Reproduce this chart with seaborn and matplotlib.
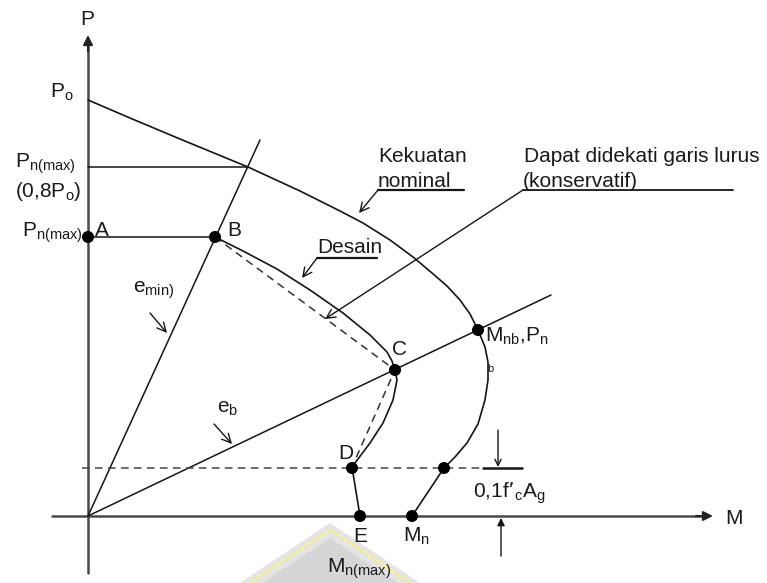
import matplotlib
matplotlib.use("Agg")
import matplotlib.pyplot as plt
import seaborn as sns
import pandas as pd

sns.set_theme(style="white")
plt.rcParams["font.family"] = ["Liberation Sans", "DejaVu Sans"]
plt.rcParams["mathtext.default"] = "regular"

# ---- data (M, P), origin at the axes crossing ----
nominal_M = [0, 42, 92, 160, 212, 252, 275, 302, 325, 344, 359, 372, 382, 390,
             397, 400, 400, 397, 390, 379, 367, 356, 324]
nominal_P = [416, 398, 377, 349, 325, 305, 293, 276, 259, 243, 230, 216, 202, 186,
             169, 154, 136, 116, 92, 73, 59, 48, 0]

design_M = [127, 155, 189, 222, 255, 282, 299, 304, 307, 309, 305, 295, 282, 264, 272]
design_P = [279, 265, 247, 226, 203, 181, 164, 155, 146, 136, 116, 93, 73, 49, 0]

approx_M = [127, 307, 264]      # straight-line (conservative) approximation B-C-D
approx_P = [279, 146, 49]

pt_names = ["A", "B", "C", "Mnb", "D", "D2", "E", "Mn"]
pt_M = [0, 127, 307, 390, 264, 356, 272, 324]
pt_P = [279, 279, 146, 186, 48, 48, 0, 0]

emin_M = [0, 172]
emin_P = [0, 376]
eb_M = [0, 463]
eb_P = [0, 221]

P_o = 416
P_nmax08 = 349
P_nmax = 279
M_08_end = 160
P_01 = 48

fig = plt.figure(figsize=(7.67, 5.83), dpi=100)
ax = fig.add_axes([0, 0, 1, 1])
ax.set_xlim(-88, 679)
ax.set_ylim(-67, 516)
ax.axis("off")

ink = "#151515"
axis_c = "#4a4a4a"

# faint watermark (decoration)
ax.fill([152, 242, 332], [-67, -7, -67], color="#e4e4e4", lw=0, zorder=0)
ax.plot([162, 242, 322], [-67, -14, -67], color="#f1eba8", lw=2, zorder=0)
ax.fill([174, 242, 310], [-67, -22, -67], color="#d6d6d6", lw=0, zorder=0)

# axes with arrows
ax.plot([0, 0], [-57, 470], color=axis_c, lw=1.8, zorder=1)
ax.plot([-36, 615], [0, 0], color=axis_c, lw=1.8, zorder=1)
ax.annotate("", xy=(0, 481), xytext=(0, 465),
            arrowprops=dict(arrowstyle="-|>", color="#222", lw=1.5,
                            mutation_scale=14, shrinkA=0, shrinkB=0))
ax.annotate("", xy=(625, 0), xytext=(608, 0),
            arrowprops=dict(arrowstyle="-|>", color="#222", lw=1.5,
                            mutation_scale=14, shrinkA=0, shrinkB=0))

# horizontal reference lines
sns.lineplot(x=[0, M_08_end], y=[P_nmax08, P_nmax08], color=ink, lw=1.1, ax=ax)
sns.lineplot(x=[0, pt_M[1]], y=[P_nmax, P_nmax], color=ink, lw=1.1, ax=ax)

# eccentricity lines
sns.lineplot(x=emin_M, y=emin_P, color=ink, lw=1.1, ax=ax, sort=False)
sns.lineplot(x=eb_M, y=eb_P, color=ink, lw=1.1, ax=ax, sort=False)

# curves
sns.lineplot(x=nominal_M, y=nominal_P, color=ink, lw=1.2, ax=ax,
             sort=False, estimator=None)
sns.lineplot(x=design_M, y=design_P, color=ink, lw=1.2, ax=ax,
             sort=False, estimator=None)
sns.lineplot(x=approx_M, y=approx_P, color="#333", lw=1.1, ax=ax,
             sort=False, estimator=None, linestyle=(0, (5, 3.5)))

# 0,1 f'c Ag level
sns.lineplot(x=[-6, 395], y=[P_01, P_01], color="#444", lw=1.1, ax=ax,
             linestyle=(0, (5, 3.5)))
sns.lineplot(x=[395, 434], y=[P_01, P_01], color=ink, lw=1.8, ax=ax)
ax.annotate("", xy=(410, P_01 + 1), xytext=(410, 86),
            arrowprops=dict(arrowstyle="->", color=ink, lw=1.0,
                            mutation_scale=11, shrinkA=0, shrinkB=0))
ax.annotate("", xy=(413, -2), xytext=(413, -40),
            arrowprops=dict(arrowstyle="-|>", color=ink, lw=1.0,
                            mutation_scale=11, shrinkA=0, shrinkB=0))

# points
df_pts = pd.DataFrame({"M": pt_M, "P": pt_P, "name": pt_names})
sns.scatterplot(data=df_pts, x="M", y="P", color="black", s=75,
                edgecolor="none", ax=ax, zorder=5)

# callout arrows
arr = dict(arrowstyle="->", color=ink, lw=1.0, mutation_scale=16,
           shrinkA=0, shrinkB=0)
ax.plot([290, 376], [326, 326], color=ink, lw=1.6)
ax.annotate("", xy=(271, 303), xytext=(290, 326), arrowprops=arr)
ax.plot([229, 289], [258, 258], color=ink, lw=1.6)
ax.annotate("", xy=(214, 238), xytext=(229, 258), arrowprops=arr)
ax.plot([435, 645], [326, 326], color=ink, lw=1.3)
ax.annotate("", xy=(237, 197), xytext=(435, 326), arrowprops=arr)
ax.annotate("", xy=(79, 183), xytext=(62, 203), arrowprops=arr)
ax.annotate("", xy=(144, 72), xytext=(126, 92), arrowprops=arr)

# labels
fs = 15
tc = "#1a1a1a"
def lab(x, y, s, size=fs):
    ax.text(x, y, s, fontsize=size, color=tc, ha="left", va="baseline")

lab(-8, 491, "P")
lab(-38, 418, "P$_o$")
lab(-73, 348, "P$_{n(max)}$")
lab(-73, 319, "(0,8P$_o$)")
lab(-66, 279, "P$_{n(max)}$")
lab(7, 280, "A")
lab(139, 280, "B")
lab(45, 223, "e$_{min)}$")
lab(129, 103, "e$_b$")
lab(304, 161, "C")
lab(250, 57, "D")
lab(265, -26, "E")
lab(315, -26, "M$_n$")
lab(239, -57, "M$_{n(max)}$")
lab(385, 18, "0,1f\u2019$_c$A$_g$")
lab(637, -8, "M")
lab(397, 174, "M$_{nb}$,P$_n$")
lab(399, 144, "b", size=8)
lab(290, 354, "Kekuatan")
lab(290, 329, "nominal")
lab(436, 354, "Dapat didekati garis lurus")
lab(435, 329, "(konservatif)")
lab(229, 263, "Desain")

fig.savefig("out.png", dpi=100, facecolor="white")
